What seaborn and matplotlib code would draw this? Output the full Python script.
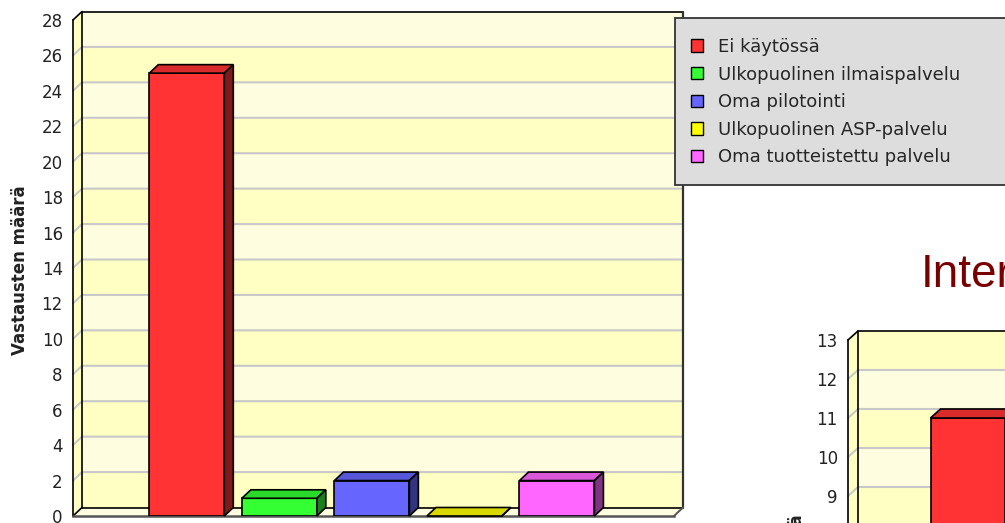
import numpy as np
import pandas as pd
import seaborn as sns

import matplotlib
matplotlib.use('Agg')
import matplotlib.pyplot as plt
from matplotlib.patches import Polygon, Rectangle, Patch
from matplotlib.colors import to_rgb

# kuvio 1: vastausten maarat
categories = ['Ei käytössä', 'Ulkopuolinen ilmaispalvelu', 'Oma pilotointi',
              'Ulkopuolinen ASP-palvelu', 'Oma tuotteistettu palvelu']
answers = [25, 1, 2, 0, 2]
colors = ['#FF3333', '#33FF33', '#6666FF', '#FFFF00', '#FF66FF']
y_ticks = list(range(0, 29, 2))

# kuvio 2 (vain alku nakyy kuvassa)
categories2 = ['Ei käytössä']
answers2 = [11]
y_ticks2 = list(range(9, 14))

W, H = 1005, 523
YELLOW = '#FFFFC4'
PALE = '#FFFDE0'
GRID = '#C8C8C8'


def px_axes(fig, left, top, right, bottom):
    return fig.add_axes([left / W, 1 - bottom / H, (right - left) / W, (bottom - top) / H])


def depth(ax, dx, dy):
    # pixel offset of the 3d depth -> data units
    inv = ax.transData.inverted()
    (a, b), (c, d) = inv.transform([(0, 0), (dx, dy)])
    return c - a, d - b


def shade(color, f):
    return tuple(np.array(to_rgb(color)) * f)


def walls(ax, top, step, dx, dy):
    x0, x1 = ax.get_xlim()
    ddx, ddy = depth(ax, dx, dy)
    levels = np.arange(0, top, step)
    kw = dict(clip_on=False, zorder=0, linewidth=0)
    for i, v in enumerate(levels):
        ax.add_patch(Rectangle((x0 + ddx, v + ddy), x1 - x0, step,
                               facecolor=YELLOW if i % 2 == 0 else PALE, **kw))
    ax.add_patch(Polygon([(x0, 0), (x0 + ddx, ddy), (x0 + ddx, top + ddy), (x0, top)],
                         facecolor=YELLOW, **kw))
    ax.add_patch(Polygon([(x0, 0), (x1, 0), (x1 + ddx, ddy), (x0 + ddx, ddy)],
                         facecolor=PALE, **kw))
    for v in levels[1:]:
        ax.plot([x0, x0 + ddx, x1 + ddx], [v, v + ddy, v + ddy], color=GRID, lw=1.5,
                clip_on=False, zorder=0.5)
    ln = dict(color='black', lw=1.2, clip_on=False, zorder=1)
    ax.plot([x0 + ddx, x0 + ddx, x1 + ddx], [ddy, top + ddy, top + ddy], **ln)
    ax.plot([x0 + ddx, x1 + ddx], [ddy, ddy], **ln)
    ax.plot([x0, x0 + ddx], [top, top + ddy], **ln)
    ax.plot([x0, x0 + ddx], [0, ddy], **ln)
    ax.plot([x1 + ddx, x1 + ddx], [ddy, top + ddy], color='#333333', lw=1.6, clip_on=False, zorder=1)
    ax.plot([x1, x1 + ddx], [0, ddy], color='#555555', lw=1.4, clip_on=False, zorder=1)


def bars3d(ax, bars, dx, dy):
    ddx, ddy = depth(ax, dx, dy)
    for p in bars:
        x, w, h = p.get_x(), p.get_width(), p.get_height()
        c = p.get_facecolor()
        p.set_edgecolor('black')
        p.set_linewidth(1.2)
        p.set_zorder(3)
        ax.add_patch(Polygon([(x, h), (x + w, h), (x + w + ddx, h + ddy), (x + ddx, h + ddy)],
                             facecolor=shade(c, 0.85), edgecolor='black', lw=1.2,
                             zorder=3, clip_on=False))
        ax.add_patch(Polygon([(x + w, 0), (x + w + ddx, ddy), (x + w + ddx, h + ddy), (x + w, h)],
                             facecolor=shade(c, 0.5), edgecolor='black', lw=1.2,
                             zorder=3, clip_on=False))


def style_axes(ax, ticks):
    ax.set_yticks(ticks)
    ax.set_xticks([])
    ax.set_xlabel('')
    ax.set_ylabel('')
    ax.set_facecolor('none')
    ax.tick_params(axis='y', length=5.8, width=1, pad=1.5, labelsize=12, labelcolor='#222222')
    for s in ['top', 'right']:
        ax.spines[s].set_visible(False)
    ax.spines['left'].set_color('black')
    ax.spines['left'].set_linewidth(1.2)
    ax.spines['bottom'].set_color('#555555')
    ax.spines['bottom'].set_linewidth(1.8)


sns.set_style('white')
plt.rcParams['font.family'] = ['DejaVu Sans']

fig = plt.figure(figsize=(W / 100, H / 100), dpi=100)

# main chart
ax = px_axes(fig, 73, 20, 674, 516)
df = pd.DataFrame({'kategoria': categories, 'vastaukset': answers})
sns.barplot(data=df, x='kategoria', y='vastaukset', hue='kategoria', order=categories,
            hue_order=categories, palette=colors, width=0.81, saturation=1,
            legend=False, ax=ax)
ax.set_xlim(-1.23, 5.265)
ax.set_ylim(0, 28)
bars = list(ax.patches)
bars3d(ax, bars, 9, 8.5)
walls(ax, 28, 2, 9, 8.5)
style_axes(ax, y_ticks)

fig.text(20 / W, 1 - 270 / H, 'Vastausten määrä', rotation=90, ha='center', va='center',
         fontweight='bold', fontsize=12, color='#222222',
         family=['Liberation Sans Narrow', 'DejaVu Sans'])

# second chart, cut off at the edge
ax2 = px_axes(fig, 848, 340, 1448, 847)
df2 = pd.DataFrame({'kategoria': categories2, 'vastaukset': answers2})
sns.barplot(data=df2, x='kategoria', y='vastaukset', hue='kategoria', palette=colors[:1],
            width=0.81, saturation=1, legend=False, ax=ax2)
ax2.set_xlim(-1.297, 5.19)
ax2.set_ylim(0, 13)
bars2 = list(ax2.patches)
bars3d(ax2, bars2, 10, 9)
walls(ax2, 13, 1, 10, 9)
style_axes(ax2, y_ticks2)

fig.text(797 / W, 1 - 514 / H, 'Vastausten määrä', rotation=90, ha='center', va='top',
         fontweight='bold', fontsize=12, color='#222222',
         family=['Liberation Sans Narrow', 'DejaVu Sans'])

fig.text(921 / W, 1 - 287 / H, 'Inter', color='#7A0000', fontsize=33,
         family=['Liberation Sans', 'DejaVu Sans'], ha='left', va='baseline')

# legend box
fig.add_artist(Rectangle((675 / W, 1 - 185 / H), 340 / W, 167 / H, transform=fig.transFigure,
                         facecolor='#DDDDDD', edgecolor='#333333', lw=1.3, zorder=4))
handles = [Patch(facecolor=c, edgecolor='black', lw=1, label=l) for c, l in zip(colors, categories)]
leg = fig.legend(handles=handles, loc='upper left', bbox_to_anchor=(691 / W, 1 - 38 / H),
                 frameon=False, fontsize=13, handlelength=0.68, handleheight=0.68,
                 handletextpad=0.8, labelspacing=0.53, borderpad=0, borderaxespad=0)
leg.set_zorder(5)

fig.savefig('out.png', dpi=100)
